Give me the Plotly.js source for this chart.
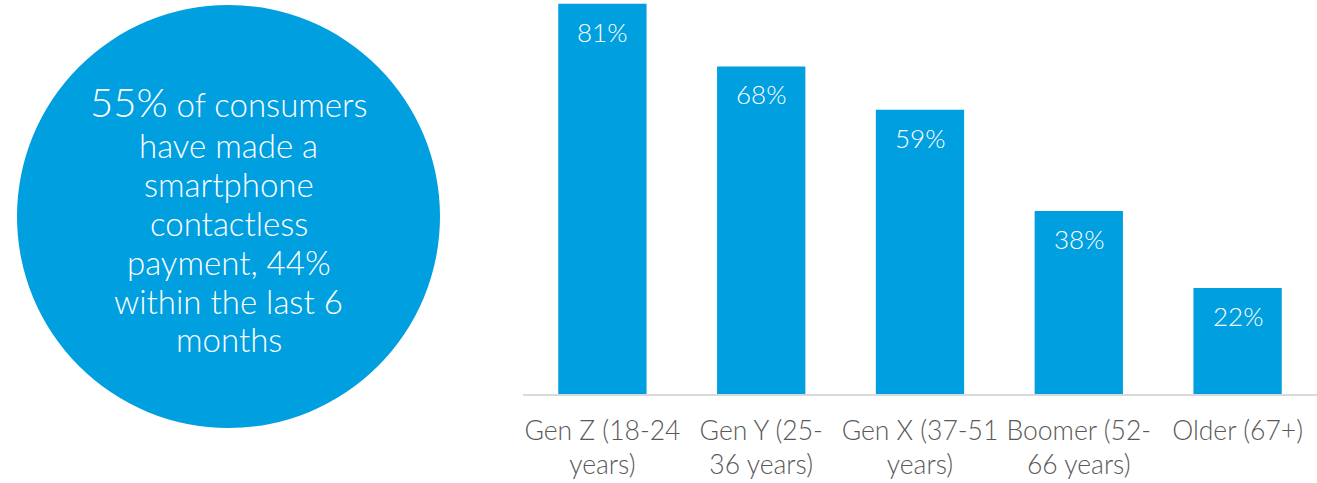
<!DOCTYPE html>
<html>
<head>
<meta charset="utf-8">
<script src="https://cdn.plot.ly/plotly-3.0.1.min.js"></script>
<style>html,body{margin:0;padding:0;background:#fff;}#chart{width:1317px;height:483px;}</style>
</head>
<body>
<div id="chart"></div>
<script>
// Data
const categories = ["Gen Z (18-24<br>years)", "Gen Y (25-<br>36 years)", "Gen X (37-51<br>years)", "Boomer (52-<br>66 years)", "Older (67+)"];
const values = [81, 68, 59, 38, 22];
const valueLabels = ["81%", "68%", "59%", "38%", "22%"];
const calloutLines = [
  '<span style="font-size:40px">55%</span> of consumers',
  'have made a',
  'smartphone',
  'contactless',
  'payment, 44%',
  'within the last 6',
  'months'
];

const BLUE = '#009FDF';
const FONT = 'Lato, "Open Sans", sans-serif';

// layout geometry (pixels)
const W = 1317, H = 483;
const mL = 523, mR = 0, mT = 0, mB = 89;
const plotW = W - mL - mR, plotH = H - mT - mB;
const px2x = p => (p - mL) / plotW;
const py2y = p => (H - mB - p) / plotH;

const circleCx = 228.5, circleCy = 216.5, circleR = 211.5;
const lineBase0 = 119, lineStep = 38.9;

const annotations = [];
values.forEach((v, i) => {
  annotations.push({
    x: categories[i], y: v, xref: 'x', yref: 'y',
    text: valueLabels[i], showarrow: false,
    yanchor: 'top', yshift: -10,
    font: {family: FONT, size: 26, color: '#ffffff', weight: 300}
  });
});
calloutLines.forEach((t, i) => {
  annotations.push({
    x: px2x(circleCx), y: py2y(lineBase0 + i * lineStep), xref: 'paper', yref: 'paper',
    text: t, showarrow: false, xanchor: 'center', yanchor: 'bottom', yshift: -9,
    font: {family: FONT, size: 33, color: '#ffffff', weight: 300}
  });
});

const trace = {
  type: 'bar',
  x: categories,
  y: values,
  marker: {color: BLUE, line: {width: 0}},
  hoverinfo: 'none'
};

const layout = {
  width: W, height: H,
  margin: {l: mL, r: mR, t: mT, b: mB, pad: 0},
  paper_bgcolor: '#ffffff', plot_bgcolor: '#ffffff',
  showlegend: false,
  bargap: 0.444,
  font: {family: FONT},
  xaxis: {
    type: 'category',
    showline: true, linecolor: '#d9d9d9', linewidth: 2,
    ticks: '', showgrid: false, zeroline: false,
    tickfont: {family: FONT, size: 26.5, color: '#595959', weight: 300},
    ticklabelstandoff: 12,
    fixedrange: true
  },
  yaxis: {
    range: [0, 81.8], visible: false, showgrid: false, zeroline: false, fixedrange: true
  },
  shapes: [{
    type: 'circle', xref: 'paper', yref: 'paper',
    xsizemode: 'pixel', ysizemode: 'pixel',
    xanchor: px2x(circleCx), yanchor: py2y(circleCy),
    x0: -circleR, x1: circleR, y0: -circleR, y1: circleR,
    fillcolor: BLUE, line: {width: 0}, layer: 'below'
  }],
  annotations: annotations
};

Plotly.newPlot('chart', [trace], layout, {displayModeBar: false, staticPlot: true});
</script>
</body>
</html>
